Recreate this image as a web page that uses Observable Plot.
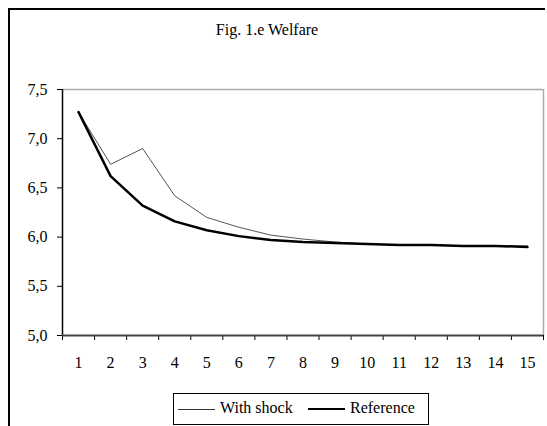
<!DOCTYPE html>
<html>
<head>
<meta charset="utf-8">
<script src="https://cdn.jsdelivr.net/npm/d3@7"></script>
<script src="https://cdn.jsdelivr.net/npm/@observablehq/plot@0.6"></script>
<style>
  html, body { margin: 0; padding: 0; background: #fff; }
  #wrap { position: relative; width: 547px; height: 426px; overflow: hidden; font-family: "Liberation Serif", "DejaVu Serif", serif; }
  #frame { position: absolute; left: 8px; top: 8px; width: 537px; height: 600px; border-left: 2px solid #000; border-top: 2px solid #000; box-sizing: border-box; }
  #title { position: absolute; left: 0; width: 534px; top: 21px; text-align: center; font-size: 16px; color: #000; }
  #legend { position: absolute; left: 173px; top: 393px; width: 256px; height: 32px; border: 1px solid #000; box-sizing: border-box; font-size: 16px; }
  .item { position: absolute; top: 5px; white-space: nowrap; }
  .sw { display: inline-block; width: 37px; vertical-align: middle; margin-right: 5px; }
  #plot { position: absolute; left: 0; top: 0; }
  #plot svg text { font-family: "Liberation Serif", "DejaVu Serif", serif; }
</style>
</head>
<body>
<div id="wrap">
  <div id="frame"></div>
  <div id="title">Fig. 1.e Welfare</div>
  <div id="plot"></div>
  <div id="legend">
    <div class="item" style="left:4px"><span class="sw" style="border-top:1px solid #333"></span>With shock</div>
    <div class="item" style="left:134px"><span class="sw" style="border-top:2px solid #000"></span>Reference</div>
  </div>
</div>
<script>
const periods = [1, 2, 3, 4, 5, 6, 7, 8, 9, 10, 11, 12, 13, 14, 15];
const withShock = [7.27, 6.74, 6.90, 6.42, 6.20, 6.10, 6.02, 5.98, 5.95, 5.93, 5.92, 5.92, 5.91, 5.91, 5.91];
const reference = [7.27, 6.62, 6.32, 6.16, 6.07, 6.01, 5.97, 5.95, 5.94, 5.93, 5.92, 5.92, 5.91, 5.91, 5.90];
const yTicks = [5.0, 5.5, 6.0, 6.5, 7.0, 7.5];

const shockData = periods.map((p, i) => ({p, v: withShock[i]}));
const refData = periods.map((p, i) => ({p, v: reference[i]}));
const bandEdges = d3.range(periods[0] - 0.5, periods[periods.length - 1] + 1, 1);
const fmt = d => d3.format(".1f")(d).replace(".", ",");

const chart = Plot.plot({
  width: 547,
  height: 426,
  marginLeft: 62,
  marginRight: 4,
  marginTop: 89,
  marginBottom: 91,
  style: {fontFamily: "Liberation Serif, DejaVu Serif, serif", fontSize: "16px", background: "transparent", color: "#000"},
  x: {domain: [periods[0] - 0.5, periods[periods.length - 1] + 0.5]},
  y: {domain: [yTicks[0], yTicks[yTicks.length - 1]]},
  marks: [
    Plot.ruleY([yTicks[yTicks.length - 1]], {stroke: "#aaa", strokeWidth: 1.5}),
    Plot.ruleX([bandEdges[bandEdges.length - 1]], {stroke: "#aaa", strokeWidth: 1.5}),
    Plot.axisY({ticks: yTicks, tickSize: 5, tickPadding: 10, tickFormat: fmt, label: null, stroke: "#000", strokeWidth: 1}),
    Plot.axisX({ticks: bandEdges, tickSize: 5, tickFormat: () => "", label: null, stroke: "#000"}),
    Plot.axisX({ticks: periods, tickSize: 0, tickPadding: 21, tickFormat: d => String(d), label: null}),
    Plot.line(shockData, {x: "p", y: "v", stroke: "#555", strokeWidth: 1}),
    Plot.line(refData, {x: "p", y: "v", stroke: "#000", strokeWidth: 2.5}),
    Plot.ruleX([bandEdges[0]], {stroke: "#000", strokeWidth: 1.5}),
    Plot.ruleY([yTicks[0]], {stroke: "#444", strokeWidth: 2})
  ]
});
document.getElementById("plot").appendChild(chart);
</script>
</body>
</html>
